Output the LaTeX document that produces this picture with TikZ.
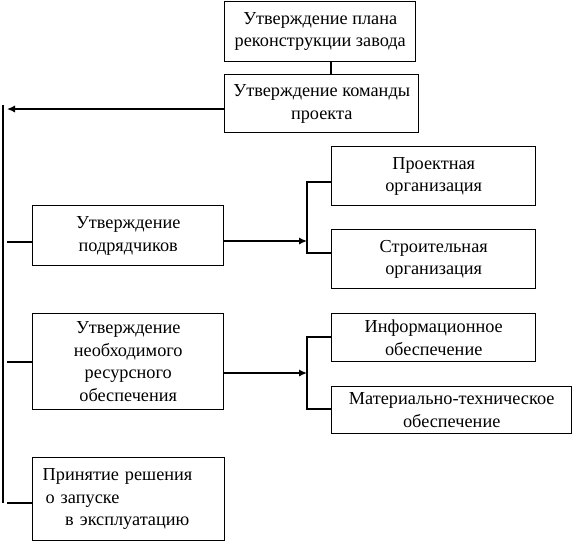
\documentclass[tikz,border=0pt]{standalone}
\usepackage{fontspec}
\setmainfont{Liberation Serif}
\usetikzlibrary{arrows.meta}

\begin{document}
\begin{tikzpicture}[
  x=0.025cm, y=-0.025cm,
  font=\fontsize{13}{16}\selectfont,
  >={Latex[length=2mm,width=1.8mm]},
  box/.style={draw, line width=1pt, align=center, inner sep=0pt,
              anchor=north west},
  link/.style={line width=1pt},
  arr/.style={->, line width=1pt}]

%% Холст в пикселях исходника: 573 x 542, ось y вниз.
\useasboundingbox (0,0) rectangle (573,542);

%% ---- верх: план и команда ----
\node[box, minimum width=4.775cm, minimum height=1.5cm] (plan) at (224,1)
  {Утверждение плана\\реконструкции завода};
\node[box, minimum width=4.85cm, minimum height=1.45cm] (team) at (224,74)
  {Утверждение команды\\проекта};

\coordinate (ab) at (331,0);
\draw[link] (ab |- plan.south) -- (ab |- team.north);

%% ---- левая колонка ----
\node[box, minimum width=4.775cm, minimum height=1.5cm] (contr) at (32,205)
  {Утверждение\\подрядчиков};
\node[box, minimum width=4.775cm, minimum height=2.4cm] (resrc) at (32,313)
  {Утверждение\\необходимого\\ресурсного\\обеспечения};
\node[box, align=left, text width=4.3cm, inner xsep=0.25cm,
      minimum height=2.075cm] (launch) at (32,457)
  {Принятие решения\\
   \hspace*{2pt}о запуске\\
   \hspace*{16pt}в эксплуатацию};

%% ---- правая колонка ----
\node[box, minimum width=5.1cm, minimum height=1.475cm] (design) at (331,146)
  {Проектная\\организация};
\node[box, minimum width=5.1cm, minimum height=1.475cm] (build) at (331,229)
  {Строительная\\организация};
\node[box, minimum width=5.1cm, minimum height=1.2cm] (info) at (331,313)
  {Информационное\\обеспечение};
\node[box, minimum width=6cm, minimum height=1.175cm] (mat) at (331,386)
  {Материально-техническое\\обеспечение};

%% ---- левая шина: стрелка от команды и отводы ----
%% Отводы к шине не касаются её: между ними ~4px, как в исходнике.
\coordinate (spTop) at (3,105);
\coordinate (spBot) at (3,503);
\draw[link] (spTop) -- (spBot);

\coordinate (tipT) at (7,109);
\draw[arr] (team.west |- tipT) -- (tipT);

\coordinate (stC) at (7,242);
\coordinate (stR) at (7,362);
\coordinate (stL) at (7,503);
\draw[link] (stC) -- (contr.west |- stC);
\draw[link] (stR) -- (resrc.west |- stR);
\draw[link] (stL) -- (launch.west |- stL);

%% ---- скобки справа ----
\coordinate (kT1) at (307,182);
\coordinate (kB1) at (307,253);
\coordinate (kI1) at (307,241);
\draw[link] (design.west |- kT1) -- (kT1) -- (kB1) -- (build.west |- kB1);
\draw[arr] (contr.east |- kI1) -- (kI1);

\coordinate (kT2) at (307,337);
\coordinate (kB2) at (307,409);
\coordinate (kI2) at (307,373);
\draw[link] (info.west |- kT2) -- (kT2) -- (kB2) -- (mat.west |- kB2);
\draw[arr] (resrc.east |- kI2) -- (kI2);

\end{tikzpicture}
\end{document}
